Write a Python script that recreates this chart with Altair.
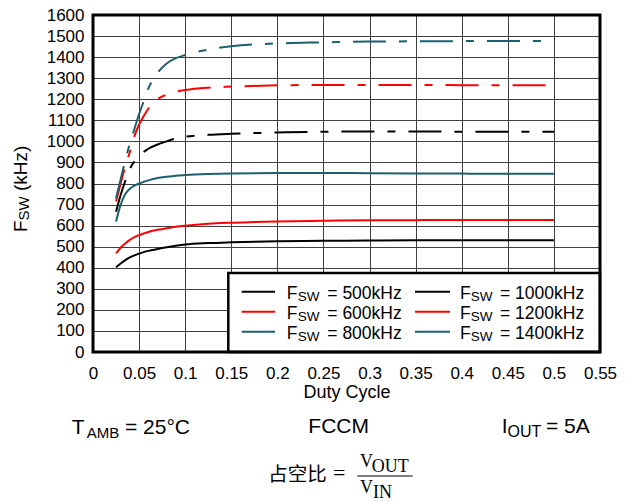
import altair as alt
import pandas as pd

# ---------------- data ----------------
duty = [0.025, 0.03, 0.035, 0.04, 0.045, 0.05, 0.055, 0.06, 0.07, 0.08, 0.09,
        0.1, 0.125, 0.15, 0.2, 0.25, 0.3, 0.35, 0.4, 0.45, 0.5]

f500 = [402, 420, 436, 449, 459, 467, 474, 480, 489, 497, 504, 510, 517, 521, 526, 528, 529, 530, 530, 530, 530]
f600 = [468, 495, 515, 532, 545, 555, 563, 570, 580, 588, 595, 600, 609, 614, 620, 623, 625, 626, 627, 627, 627]
f800 = [619, 700, 750, 775, 790, 800, 808, 815, 826, 832, 837, 840, 845, 848, 850, 850, 849, 848, 847, 846, 846]
f1000 = [666, 745, 812, 870, 905, 928, 950, 965, 985, 1000, 1014, 1022, 1031, 1036, 1042, 1046, 1047, 1047, 1046, 1046, 1046]
f1200 = [714, 800, 880, 950, 1025, 1080, 1120, 1155, 1200, 1222, 1236, 1244, 1255, 1260, 1266, 1268, 1268, 1268, 1267, 1266, 1266]
f1400 = [730, 820, 910, 990, 1060, 1130, 1190, 1250, 1325, 1370, 1395, 1410, 1436, 1452, 1465, 1470, 1474, 1475, 1476, 1477, 1477]

series_labels = ["500kHz", "600kHz", "800kHz", "1000kHz", "1200kHz", "1400kHz"]
series_values = [f500, f600, f800, f1000, f1200, f1400]
series_dashed = [False, False, False, True, True, True]
series_colors = ["#000000", "#ff0000", "#1d5f6c", "#000000", "#ff0000", "#1d5f6c"]

x_ticks = [0, 0.05, 0.1, 0.15, 0.2, 0.25, 0.3, 0.35, 0.4, 0.45, 0.5, 0.55]
y_ticks = list(range(0, 1700, 100))

rows = []
for lab, vals, dsh in zip(series_labels, series_values, series_dashed):
    for d, v in zip(duty, vals):
        rows.append({"duty": d, "fsw": v, "series": lab, "dashed": dsh})
df = pd.DataFrame(rows)

# ---------------- layout ----------------
W, H = 507, 337
OX, OY = 93, 15  # plot origin on the page
SANS = "Liberation Sans"
SERIF = "Liberation Serif"
CJK = "Noto Sans CJK SC"


def txt(text, px, py, size, font=SANS, angle=0, align="left", baseline="alphabetic"):
    kw = dict(font=font, fontSize=size, align=align, baseline=baseline, color="black")
    if angle:
        kw["angle"] = angle
    return alt.Chart(pd.DataFrame({"t": [text]})).mark_text(**kw).encode(
        x=alt.value(px - OX), y=alt.value(py - OY), text="t:N"
    )


def one():
    return alt.Chart(pd.DataFrame({"a": [0]}))


color_enc = alt.Color("series:N", scale=alt.Scale(domain=series_labels, range=series_colors), legend=None)
x_enc = alt.X(
    "duty:Q",
    scale=alt.Scale(domain=[0, 0.55], nice=False),
    axis=alt.Axis(values=x_ticks, format="~g", title="Duty Cycle", labelPadding=13.5,
                  titlePadding=1.5, titleFontSize=18, titleFont=SANS, titleFontWeight="normal",
                  titleColor="black"),
)
y_enc = alt.Y(
    "fsw:Q",
    scale=alt.Scale(domain=[0, 1600], nice=False),
    axis=alt.Axis(values=y_ticks, format="d", title=None, labelPadding=9),
)

solid = alt.Chart(df).transform_filter("!datum.dashed").mark_line(
    strokeWidth=2, interpolate="monotone"
).encode(x=x_enc, y=y_enc, color=color_enc)

dashed = alt.Chart(df).transform_filter("datum.dashed").mark_line(
    strokeWidth=2, interpolate="monotone", strokeDash=[33, 13, 8, 13]
).encode(x=x_enc, y=y_enc, color=color_enc)

layers = [solid, dashed]

# legend box
layers.append(one().mark_rect(fill="white", stroke="black", strokeWidth=2.5).encode(
    x=alt.value(228.3 - OX), x2=alt.value(W), y=alt.value(273 - OY), y2=alt.value(H)))

sw_x1 = [241.7, 415]
sw_x2 = [275, 450]
f_x = [286.7, 460]
s_x = [297.7, 470.7]
e_x = [327.3, 500]
for i, (lab, col) in enumerate(zip(series_labels, series_colors)):
    c, r = i // 3, i % 3
    yl = 291.7 + 20 * r
    yb = 299.3 + 20 * r
    layers.append(one().mark_rule(color=col, strokeWidth=2).encode(
        x=alt.value(sw_x1[c] - OX), x2=alt.value(sw_x2[c] - OX), y=alt.value(yl - OY)))
    layers.append(txt("F", f_x[c], yb, 17.5))
    layers.append(txt("SW", s_x[c], yb + 2, 13.5))
    layers.append(txt("= " + lab, e_x[c], yb, 17.5))

# plot frame
layers.append(one().mark_rect(filled=False, stroke="black", strokeWidth=3).encode(
    x=alt.value(0), x2=alt.value(W), y=alt.value(0), y2=alt.value(H)))

# y axis title (rotated, with subscript)
layers.append(txt("F", 26.7, 232, 19, angle=270))
layers.append(txt("SW", 28.7, 220.4, 15, angle=270))
layers.append(txt("(kHz)", 26.7, 191, 19, angle=270))

# conditions below the chart
layers.append(txt("T", 71.7, 434, 21))
layers.append(txt("AMB", 86.7, 437.5, 15))
layers.append(txt("= 25°C", 125, 434, 21))
layers.append(txt("FCCM", 308.3, 433.3, 21))
layers.append(txt("I", 501.7, 433.3, 21))
layers.append(txt("OUT", 507.5, 437, 16))
layers.append(txt("= 5A", 546, 433.3, 21))

# duty-cycle definition
layers.append(txt("占空比", 268.3, 481, 19.5, font=CJK))
layers.append(txt("=", 333, 480.4, 22, font=SERIF))
layers.append(one().mark_rule(color="black", strokeWidth=1.2).encode(
    x=alt.value(357.3 - OX), x2=alt.value(412.7 - OX), y=alt.value(476 - OY)))
layers.append(txt("V", 360, 466.7, 18, font=SERIF))
layers.append(txt("OUT", 371.7, 471.7, 18, font=SERIF))
layers.append(txt("V", 360, 493.3, 18, font=SERIF))
layers.append(txt("IN", 373, 498.3, 18, font=SERIF))

chart = alt.layer(*layers).properties(
    width=W,
    height=H,
    autosize=alt.AutoSizeParams(type="none"),
    padding={"left": OX, "top": OY, "right": 631 - OX - W, "bottom": 502 - OY - H},
    background="white",
).configure_view(strokeWidth=0).configure_axis(
    grid=True,
    gridColor="#404040",
    gridWidth=1,
    domain=False,
    ticks=False,
    labelFlush=False,
    labelOverlap=False,
    labelFont=SANS,
    labelFontSize=17,
    labelColor="black",
)

chart.save("out.html", embed_options={"renderer": "svg", "actions": False})
